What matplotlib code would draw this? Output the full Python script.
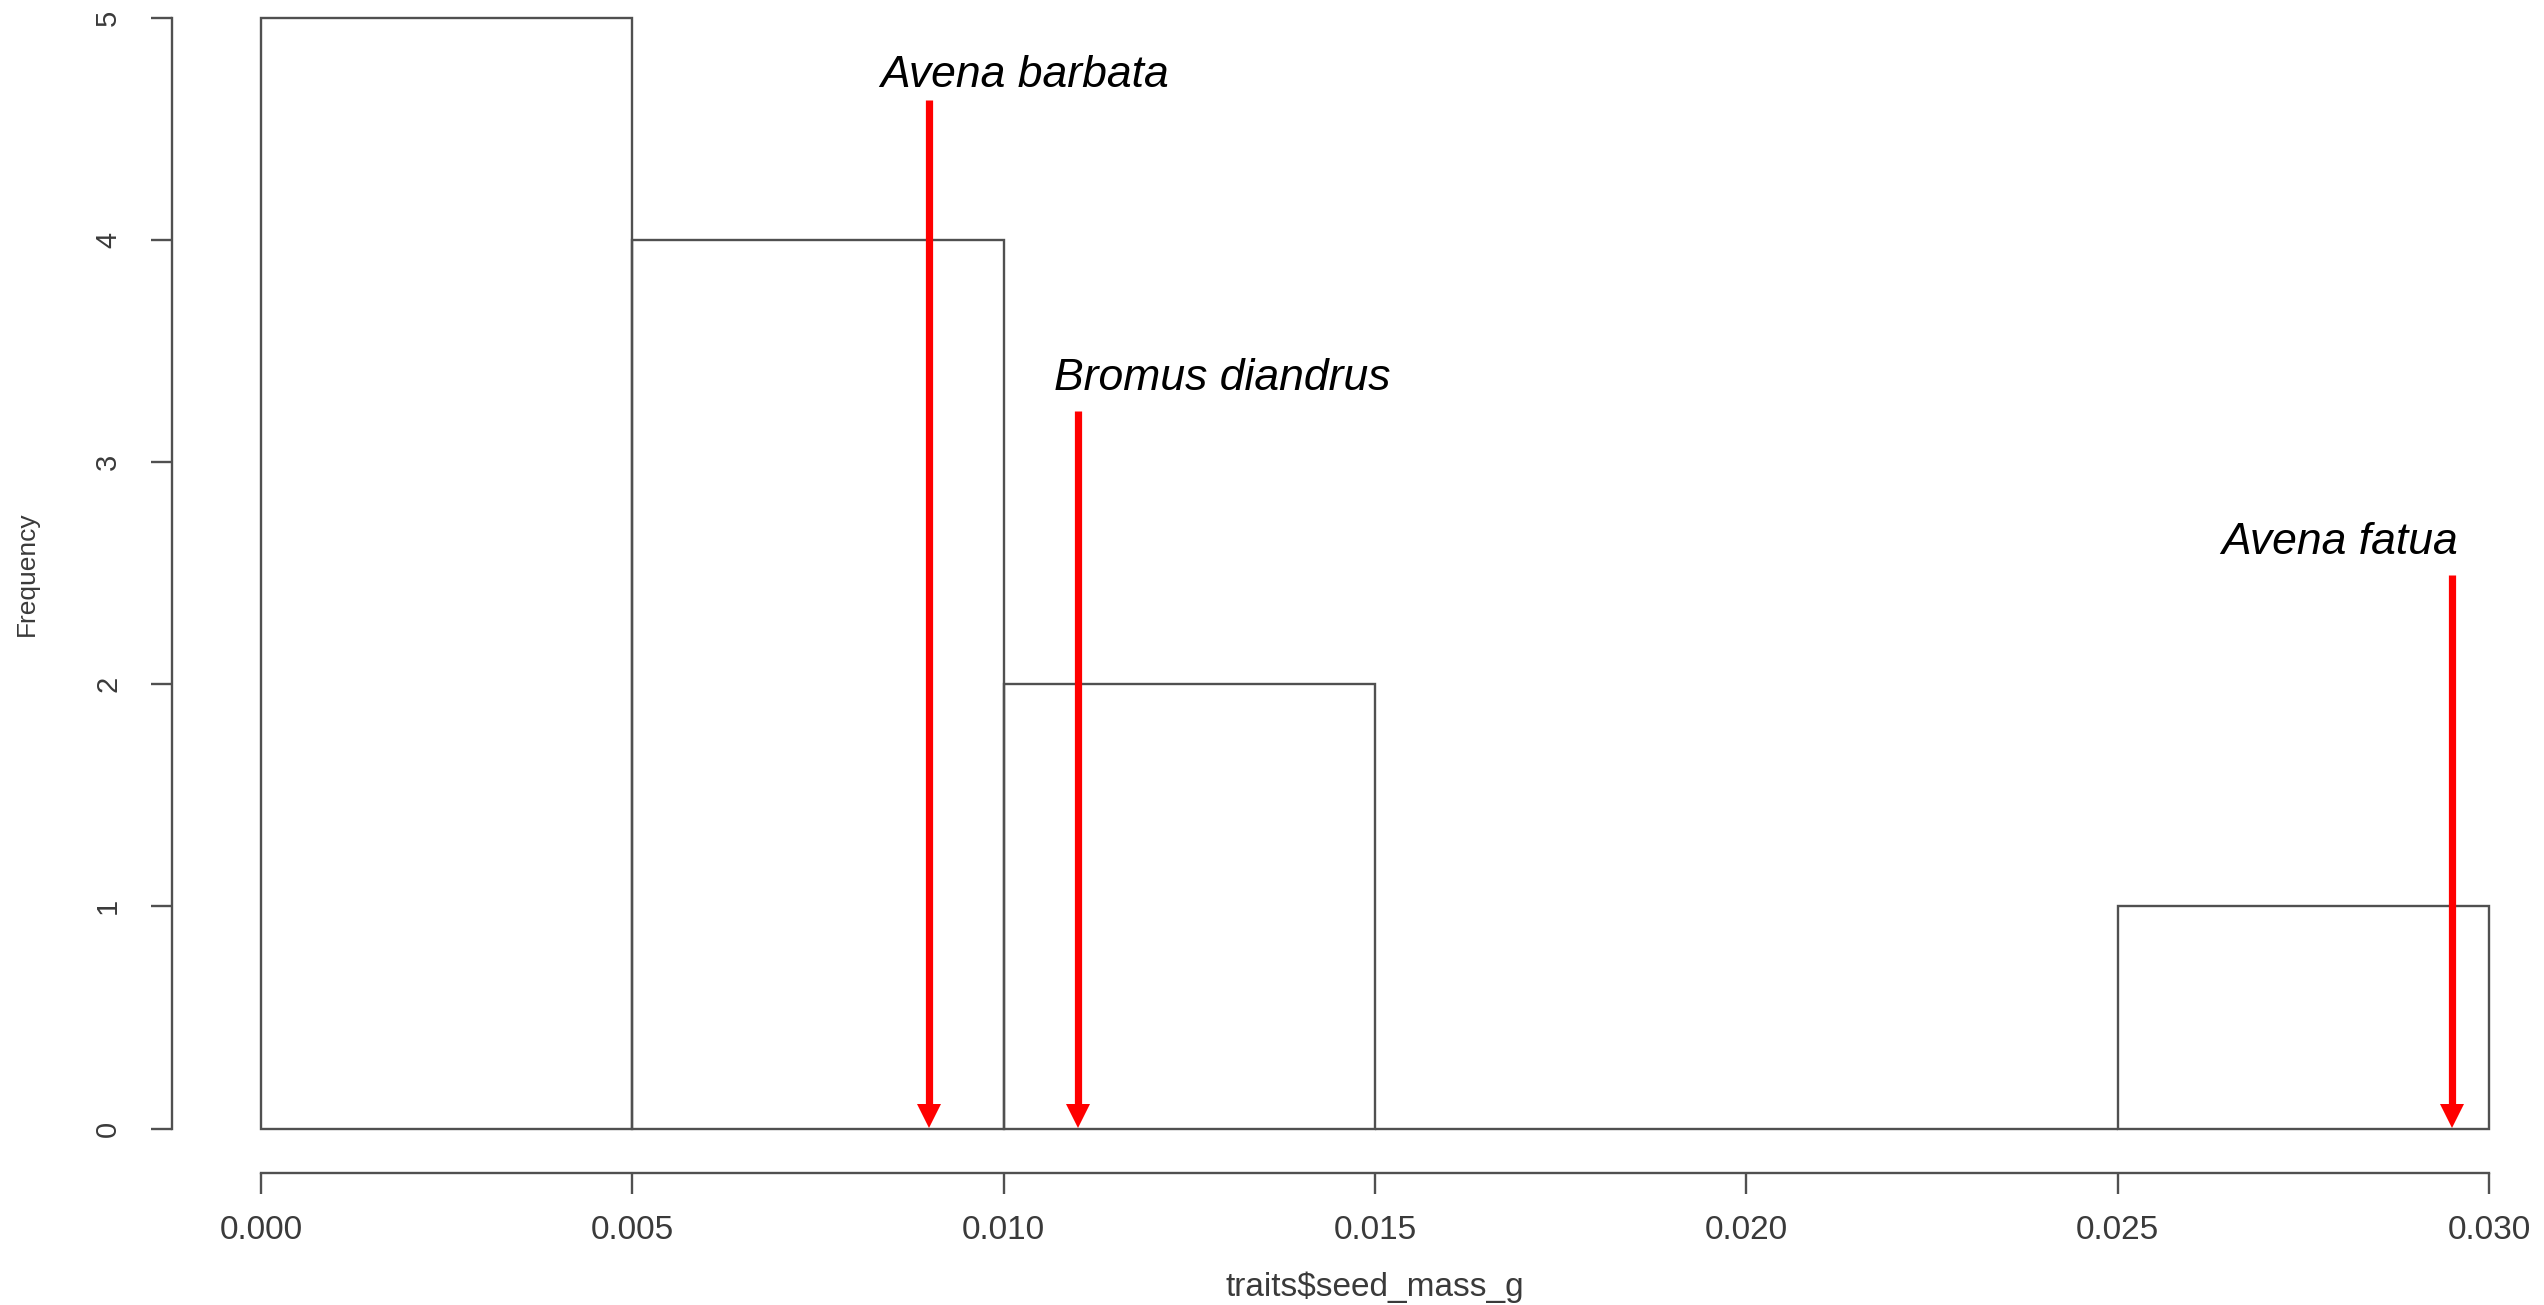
#!/usr/bin/env python3
"""
Histogram of seed mass (R base-graphics look) with red arrows marking
three grass species.
"""
import matplotlib
matplotlib.use("Agg")
import matplotlib.pyplot as plt
import matplotlib as mpl
from matplotlib.transforms import ScaledTranslation

# ── data ─────────────────────────────────────────────────────────────────
BIN_EDGES = [0.000, 0.005, 0.010, 0.015, 0.020, 0.025, 0.030]
COUNTS = [5, 4, 2, 0, 0, 1]

SPECIES = ["Avena barbata", "Bromus diandrus", "Avena fatua"]
SPECIES_MASS = [0.0090, 0.0110, 0.0295]      # arrow x (g)
ARROW_TOP = [4.63, 3.23, 2.49]               # arrow start (frequency units)

X_TICKS = [0.000, 0.005, 0.010, 0.015, 0.020, 0.025, 0.030]
Y_TICKS = [0, 1, 2, 3, 4, 5]

# label offsets from arrow top, in pixels (dx, dy)
LABEL_OFFSETS = [(95, 13), (144, 21), (-112, 21)]

AXIS_GREY = "#505050"
TEXT_GREY = "#3a3a3a"
RED = "#ff0000"
HEAD_PT = 17.5     # arrow head width == length, points
SHAFT_PT = 5.2


def main():
    mpl.rcParams.update({"font.family": ["Liberation Sans", "DejaVu Sans"]})

    W, H, DPI = 2544, 1305, 100
    fig = plt.figure(figsize=(W / DPI, H / DPI), dpi=DPI)
    fig.patch.set_facecolor("white")

    # pixel geometry of the R plot region (R adds 4% on each side)
    x_left_px, x_right_px = 172, 2578
    y_bottom_px, y_top_px = 1173, -26.6
    ax = fig.add_axes([x_left_px / W, (H - y_bottom_px) / H,
                       (x_right_px - x_left_px) / W,
                       (y_bottom_px - y_top_px) / H])
    ax.set_xlim(-0.0012, 0.0312)
    ax.set_ylim(-0.2, 5.2)
    ax.patch.set_alpha(0)

    # histogram bars
    lefts = BIN_EDGES[:-1]
    widths = [b - a for a, b in zip(BIN_EDGES[:-1], BIN_EDGES[1:])]
    ax.bar(lefts, COUNTS, width=widths, align="edge", fill=False,
           edgecolor=AXIS_GREY, linewidth=1.7, zorder=2)

    # R-style detached axes
    for side in ("top", "right"):
        ax.spines[side].set_visible(False)
    ax.spines["left"].set_bounds(Y_TICKS[0], Y_TICKS[-1])
    ax.spines["bottom"].set_bounds(X_TICKS[0], X_TICKS[-1])
    for side in ("left", "bottom"):
        ax.spines[side].set_color(AXIS_GREY)
        ax.spines[side].set_linewidth(1.7)

    ax.set_xticks(X_TICKS)
    ax.set_xticklabels([f"{v:.3f}" for v in X_TICKS])
    ax.set_yticks(Y_TICKS)
    ax.set_yticklabels([str(v) for v in Y_TICKS], rotation=90, va="center")
    ax.tick_params(axis="both", length=15, width=1.7, color=AXIS_GREY,
                   labelcolor=TEXT_GREY)
    ax.tick_params(axis="x", labelsize=24, pad=15)
    ax.tick_params(axis="y", labelsize=21, pad=21)

    ax.set_xlabel("traits$seed_mass_g", fontsize=24, color=TEXT_GREY)
    ax.xaxis.set_label_coords(0.5, (y_bottom_px - 1287) / (y_bottom_px - y_top_px))
    ax.xaxis.label.set_va("center")
    ax.set_ylabel("Frequency", fontsize=19, color=TEXT_GREY)
    ax.yaxis.set_label_coords((27 - x_left_px) / (x_right_px - x_left_px), 0.5)
    ax.yaxis.label.set_va("center")

    # red arrows: shaft + triangular head whose tip sits on y = 0
    ax.vlines(SPECIES_MASS, 0.06, ARROW_TOP, colors=RED,
              linewidth=SHAFT_PT, capstyle="butt", zorder=4)
    head_tr = ax.transData + ScaledTranslation(0, HEAD_PT / 2 / 72,
                                               fig.dpi_scale_trans)
    ax.plot(SPECIES_MASS, [0] * len(SPECIES_MASS), linestyle="none",
            marker="v", markersize=HEAD_PT, markeredgewidth=0,
            color=RED, transform=head_tr, zorder=4, clip_on=False)

    for name, x, top, (dx, dy) in zip(SPECIES, SPECIES_MASS, ARROW_TOP,
                                      LABEL_OFFSETS):
        ax.annotate(name, xy=(x, top), xytext=(dx, dy),
                    textcoords="offset pixels", ha="center", va="baseline",
                    fontsize=32, fontstyle="italic", color="black", zorder=5)

    fig.savefig("out.png", dpi=DPI)
    plt.close(fig)


if __name__ == "__main__":
    main()
